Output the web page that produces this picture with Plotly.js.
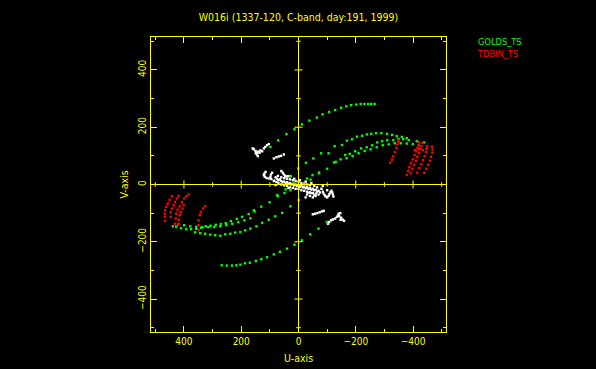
<!DOCTYPE html>
<html>
<head>
<meta charset="utf-8">
<script src="https://cdn.plot.ly/plotly-3.0.1.min.js"></script>
<style>html,body{margin:0;padding:0;background:#000;}#chart{width:596px;height:369px;}</style>
</head>
<body>
<div id="chart"></div>
<script>
// ---- data (u, v) ----
const titleText = "W016i (1337-120, C-band, day:191, 1999)";
const seriesNames = ["GOLDS_TS", "TDBIN_TS"];
const xTickVals = [400, 200, 0, -200, -400];
const yTickVals = [-400, -200, 0, 200, 400];

// GOLDS_TS (green)
const goldsOuterUpper = [[98,131],[71,154],[42,176],[14,193],[-12,210],[-38,223],[-64,234],[-84,245],[-107,253],[-128,260],[-149,268],[-167,273],[-184,277],[-202,279],[-217,281],[-230,281],[-243,281],[-254,281],[-266,281]];
const goldsOuterLower = [[268,-282],[250,-283],[232,-283],[217,-282],[203,-280],[187,-275],[170,-273],[149,-267],[130,-261],[110,-254],[86,-244],[65,-235],[40,-224],[14,-210],[-12,-195],[-41,-174],[-70,-154],[-99,-131]];
const goldsBandUpper = [[-30,21],[-49,33],[-72,42],[-100,55],[-124,77],[-147,88],[-163,103],[-179,107],[-198,116],[-219,126],[-238,130],[-257,137],[-275,147],[-292,151],[-310,155],[-331,155],[-349,159],[-366,158],[-385,155],[-413,151],[-438,147],
  [-168,92],[-189,99],[-210,109],[-231,117],[-252,123],[-273,130],[-294,137],[-315,140],[-336,144],[-357,144],[-378,143],[-399,141],[-420,137],
  [-26,76],[-52,91],[-79,109],[-105,109],[-126,134],[-152,138],[-169,153],[-187,158],[-204,167],[-222,170],[-239,175],[-254,177],[-271,179],[-289,179],[-309,177],[-327,173],[-343,169],[-361,166],[-378,162]];
const goldsBandLower = [[28,-20],[49,-30],[72,-41],[101,-62],[130,-77],[153,-94],[174,-103],[197,-113],[215,-120],[236,-128],[254,-135],[271,-138],[289,-141],[307,-144],[324,-146],[340,-151],[357,-155],[375,-156],[392,-156],[410,-153],[427,-147],[439,-146],
  [168,-118],[189,-125],[210,-132],[231,-137],[252,-142],[273,-146],[294,-148],[315,-149],[336,-149],[357,-148],[378,-146],[399,-142],[420,-139],
  [28,-76],[57,-99],[81,-111],[104,-123],[127,-134],[147,-146],[168,-154],[186,-160],[203,-166],[221,-168],[238,-172],[256,-174],[273,-179],[291,-177],[308,-175],[326,-172],[343,-170],[361,-167]];
const goldsCentre = [[1,56],[-1,-55],[28,30],[16,4],[-19,0],[45,-17],[-42,17],[75,-37],[-71,39],[-130,79],[156,-90]];

// TDBIN_TS (red)
const tdbinUpper = [[-320,76],[-326,87],[-331,99],[-337,113],[-342,127],[-345,139],[-349,149],[-351,155],
  [-378,33],[-383,47],[-387,60],[-393,74],[-399,88],[-405,103],[-411,116],[-415,127],[-420,137],[-421,148],
  [-392,39],[-398,54],[-404,68],[-410,82],[-415,96],[-421,110],[-426,124],[-429,134],[-433,145],
  [-415,41],[-422,57],[-429,71],[-435,85],[-440,99],[-445,113],[-447,124],[-449,134],
  [-439,41],[-446,55],[-453,69],[-459,83],[-463,97],[-467,111],[-468,122],[-466,132],
  [-406,120],[-420,124],[-434,120],[-448,124]];
const tdbinLower = [[466,-127],[467,-113],[467,-102],[466,-90],[462,-78],[457,-67],[450,-53],[442,-41],
  [446,-113],[446,-96],[442,-84],[436,-73],[431,-61],[425,-49],[419,-40],
  [431,-137],[429,-119],[427,-102],[422,-88],[415,-76],[407,-61],[399,-49],[392,-41],[384,-35],
  [419,-137],[418,-123],[415,-107],[411,-96],[405,-84],[401,-72],
  [349,-158],[349,-142],[349,-125],[345,-107],[341,-96],[334,-84],[326,-76]];

// other baselines (white, unlabelled)
const otherUpperLeft = [[160,126],[156,123],[150,117],[147,111],[145,105],[142,99],[149,109],[139,114],[133,119],[127,116],[121,126],[116,131],[110,137],[104,141],[136,111],[142,114],
  [86,91],[77,95],[69,98],[61,100],[51,105]];
const otherArcs = [[115,44],[119,38],[121,33],[118,27],[112,23],[104,21],
  [92,41],[96,35],[98,27],[95,19],[86,13],[77,9],
  [60,47],[55,41],[51,35],[46,30],[37,29],[28,29]];
const otherCore = [[80,25],[75,20],[70,15],[65,18],[60,12],[55,8],[50,10],[45,5],[40,8],[35,3],[30,5],[25,0],[20,2],[15,-3],[10,0],[5,-5],[0,-2],[-5,-8],[-10,-5],[-15,-10],[-20,-8],[-25,-13],[-30,-10],[-35,-15],[-40,-12],[-45,-18],[-50,-15],[-55,-20],[-60,-18],[-65,-25],[-70,-22],[-75,-28],
  [70,5],[60,0],[50,-3],[40,-5],[30,-10],[20,-12],[10,-15],[0,-15],[-10,-20],[-20,-22],[-30,-25],[-40,-28],[-50,-30],[-60,-32],
  [60,25],[50,22],[40,20],[30,18],[20,15],[10,12],[0,10],[-10,5],[-20,3],[-30,0],[-40,-2],
  [85,12],[80,-2],[72,30],[45,28],[35,-12],[15,20],[-5,15],[-25,10],[-45,5],[-55,-5],[-65,-10],[-80,-15],[-70,-35],[-60,-40],[-85,-5],
  [-85,-25],[-88,-32],[-92,-38],[-95,-42],[-100,-45],[-105,-40],[-108,-33],[-112,-27],[-115,-22],[-118,-28],[-120,-35],[-122,-42],[-100,-20],
  [-30,-35],[-40,-40],[-50,-45],[-55,-38],[-45,-30],[-35,-28],[-25,-45]];
const otherLowerRight = [[-50,-104],[-58,-102],[-66,-100],[-74,-97],[-82,-94],[-88,-92],
  [-103,-137],[-107,-131],[-114,-125],[-120,-122],[-128,-119],[-134,-113],[-138,-108],[-140,-102],[-146,-100],[-142,-111],[-149,-116],[-154,-123],[-159,-127],[-147,-123]];

// ---- build ----
const YEL = "#ffff00", GRN = "#00ff00", RED = "#ff0000", WHT = "#ffffff";
const FONT = "DejaVu Sans Condensed, DejaVu Sans, sans-serif";
function us(arrs){ return [].concat(...arrs.map(a => a.map(p => p[0]))); }
function vs(arrs){ return [].concat(...arrs.map(a => a.map(p => p[1]))); }
function pts(arrs, color, name){
  return {type:"scatter", mode:"markers", name:name, x:us(arrs), y:vs(arrs),
    marker:{symbol:"square", size:2.4, color:color, line:{width:0}}, hoverinfo:"x+y"};
}
const traces = [
  pts([otherUpperLeft, otherArcs, otherCore, otherLowerRight], WHT, "other"),
  pts([goldsOuterUpper, goldsOuterLower, goldsBandUpper, goldsBandLower, goldsCentre], GRN, seriesNames[0]),
  pts([tdbinUpper, tdbinLower], RED, seriesNames[1])
];

// crosshair through origin with its own ticks
const R = 515;
const shapes = [
  {type:"line", xref:"x", yref:"y", x0:0, x1:0, y0:-R, y1:R, line:{color:YEL, width:1}},
  {type:"line", xref:"x", yref:"y", x0:-R, x1:R, y0:0, y1:0, line:{color:YEL, width:1}}
];
for (let t = -500; t <= 500; t += 100) {
  if (t === 0) continue;
  const L = (t % 200 === 0) ? 14 : 8;
  shapes.push({type:"line", xref:"x", yref:"y", x0:-L, x1:L, y0:t, y1:t, line:{color:YEL, width:1}});
  shapes.push({type:"line", xref:"x", yref:"y", x0:t, x1:t, y0:-L, y1:L, line:{color:YEL, width:1}});
}

const axisCommon = {
  showgrid:false, zeroline:false, showline:true, linecolor:YEL, linewidth:1, mirror:"ticks",
  ticks:"inside", ticklen:6, tickwidth:1, tickcolor:YEL, tickfont:{family:FONT, size:10, color:YEL},
  minor:{ticks:"inside", dtick:100, ticklen:3, tickcolor:YEL, tickwidth:1, showgrid:false}
};
const legendText = '<span style="color:' + GRN + '">' + seriesNames[0] + '</span><br>' +
                   '<span style="color:' + RED + '">' + seriesNames[1] + '</span>';
const layout = {
  width:596, height:369, paper_bgcolor:"#000", plot_bgcolor:"#000",
  margin:{l:151, r:150, t:37, b:37}, showlegend:false,
  title:{text:titleText, x:0.5, xref:"paper", xanchor:"center", y:1-17/369, yref:"container", yanchor:"middle",
    font:{family:FONT, size:10.5, color:YEL}},
  xaxis:Object.assign({}, axisCommon, {range:[R, -R], tickmode:"array", tickvals:xTickVals,
    title:{text:"U-axis", standoff:8, font:{family:FONT, size:10.5, color:YEL}}}),
  yaxis:Object.assign({}, axisCommon, {range:[-R, R], tickmode:"array", tickvals:yTickVals, tickangle:-90,
    title:{text:"V-axis", standoff:6, font:{family:FONT, size:10.5, color:YEL}}}),
  shapes:shapes,
  annotations:[
    {text:legendText, xref:"paper", yref:"paper", x:(475-151)/295, y:(332-33.5)/295, xanchor:"left", yanchor:"top", align:"left",
     showarrow:false, font:{family:FONT, size:9.2, color:GRN}}
  ]
};
Plotly.newPlot("chart", traces, layout, {displayModeBar:false, staticPlot:true});
</script>
</body>
</html>
